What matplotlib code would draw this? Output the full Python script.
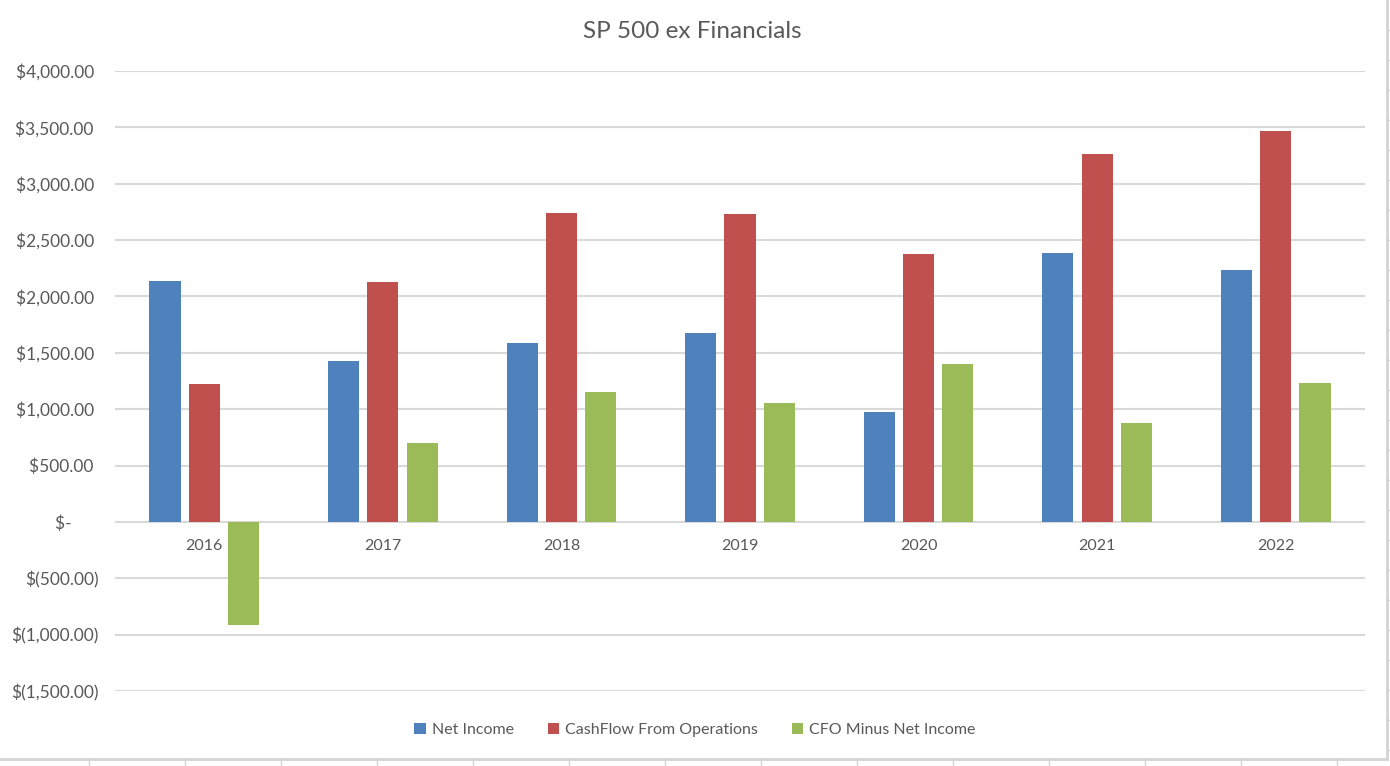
import numpy as np
import matplotlib.pyplot as plt
from matplotlib.lines import Line2D
from matplotlib.ticker import FuncFormatter

# SP 500 ex Financials - net income vs cash flow from operations
years = ['2016', '2017', '2018', '2019', '2020', '2021', '2022']
net_income = [2138, 1428, 1588, 1676, 976, 2386, 2235]
cashflow_ops = [1224, 2129, 2741, 2732, 2377, 3264, 3468]
cfo_minus_ni = [-914, 701, 1153, 1056, 1401, 878, 1233]

series = [net_income, cashflow_ops, cfo_minus_ni]
names = ['Net Income', 'CashFlow From Operations', 'CFO Minus Net Income']
colors = ['#4F81BD', '#C0504D', '#9BBB59']
text_col = '#595959'

plt.rcParams['font.family'] = ['Lato', 'DejaVu Sans']

fig = plt.figure(figsize=(13.9, 7.66), dpi=100)
ax = fig.add_axes([115/1390, 1 - 691/766, 1250/1390, 620/766])

x = np.arange(len(years))
w = 0.174
step = 0.22
for i, (vals, nm, c) in enumerate(zip(series, names, colors)):
    ax.bar(x + (i - 1) * step, vals, width=w, color=c, label=nm, zorder=3)

ax.set_xlim(-0.5, len(years) - 0.5)
ax.set_ylim(-1500, 4000)
ax.set_yticks(np.arange(-1500, 4001, 500))


def acct(v, pos):
    if v == 0:
        return '$-      '
    if v < 0:
        return '$({:,.2f})'.format(-v)
    return '${:,.2f} '.format(v)


ax.yaxis.set_major_formatter(FuncFormatter(acct))
ax.tick_params(axis='y', length=0, pad=12, labelsize=12.5, labelcolor=text_col)
ax.set_xticks([])
ax.grid(axis='y', color='#d9d9d9', linewidth=1.5, zorder=0)
for s in ax.spines.values():
    s.set_visible(False)

# category labels sit under the zero line
for xi, yr in zip(x, years):
    ax.annotate(yr, (xi, 0), xytext=(0, -24), textcoords='offset pixels',
                ha='center', va='center', fontsize=11.5, color=text_col)

fig.text(692/1390, 1 - 31/766, 'SP 500 ex Financials', ha='center', va='center',
         fontsize=17.5, color=text_col)

ax.legend(loc='center', bbox_to_anchor=(0.5, 1 - 730/766), bbox_transform=fig.transFigure,
          ncol=3, frameon=False, fontsize=11.5, labelcolor=text_col,
          handlelength=0.7, handleheight=0.7, handletextpad=0.4, columnspacing=2.1)

# spreadsheet cell grid around the chart object
gc = '#d4d4d4'
fig.add_artist(Line2D([0, 1387/1390], [1 - 759/766] * 2, color=gc, lw=2, transform=fig.transFigure))
fig.add_artist(Line2D([1387/1390] * 2, [1 - 759/766, 1], color=gc, lw=2, transform=fig.transFigure))
for px in range(89, 1387, 96):
    fig.add_artist(Line2D([px/1390] * 2, [0, 1 - 759/766], color=gc, lw=1, transform=fig.transFigure))
for py in range(30, 759, 30):
    fig.add_artist(Line2D([1387/1390, 1], [1 - py/766] * 2, color=gc, lw=1, transform=fig.transFigure))

fig.savefig('out.png', dpi=100)
